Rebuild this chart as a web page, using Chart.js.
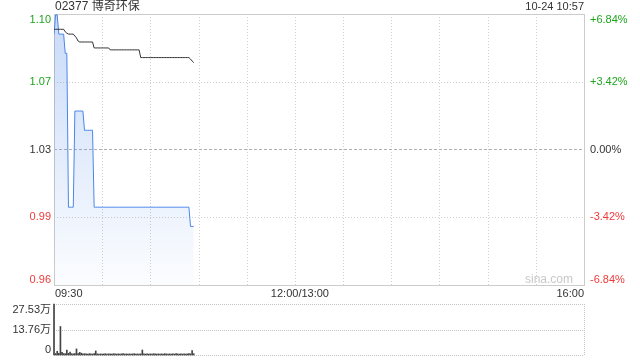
<!DOCTYPE html>
<html>
<head>
<meta charset="utf-8">
<script src="https://cdn.jsdelivr.net/npm/chart.js@4.4.0/dist/chart.umd.min.js"></script>
<style>
html, body { margin: 0; padding: 0; background: #fff; }
#wrap { position: relative; width: 640px; height: 360px; }
#wrap canvas { position: absolute; left: 0; top: 0; }
</style>
</head>
<body>
<div id="wrap">
  <canvas id="price" width="640" height="360"></canvas>
  <canvas id="vol" width="640" height="360"></canvas>
</div>
<script>
const stockName = '02377 博奇环保';
const stamp = '10-24 10:57';
const prevClose = 1.03;
const pctTicks = [6.84, 3.42, 0, -3.42, -6.84];
const priceLabels = ['1.10', '1.07', '1.03', '0.99', '0.96'];
const pctLabels = ['+6.84%', '+3.42%', '0.00%', '-3.42%', '-6.84%'];
const timeTicks = [0, 150, 330];
const timeLabels = ['09:30', '12:00/13:00', '16:00'];
const gridMinutes = [30, 60, 90, 120, 150, 180, 210, 240, 270, 300];
const totalMinutes = 330;

// one value per minute from 09:30
const prices = [
  1.09, 1.10, 1.10, 1.09, 1.09, 1.09, 1.09, 1.08, 1.08, 1.00,
  1.00, 1.00, 1.00, 1.05, 1.05, 1.05, 1.05, 1.05, 1.05, 1.04,
  1.04, 1.04, 1.04, 1.04, 1.04, 1.00, 1.00, 1.00, 1.00, 1.00,
  1.00, 1.00, 1.00, 1.00, 1.00, 1.00, 1.00, 1.00, 1.00, 1.00,
  1.00, 1.00, 1.00, 1.00, 1.00, 1.00, 1.00, 1.00, 1.00, 1.00,
  1.00, 1.00, 1.00, 1.00, 1.00, 1.00, 1.00, 1.00, 1.00, 1.00,
  1.00, 1.00, 1.00, 1.00, 1.00, 1.00, 1.00, 1.00, 1.00, 1.00,
  1.00, 1.00, 1.00, 1.00, 1.00, 1.00, 1.00, 1.00, 1.00, 1.00,
  1.00, 1.00, 1.00, 1.00, 1.00, 0.99, 0.99, 0.99
];
const avgPrices = [
  1.0925, 1.0925, 1.0925, 1.0925, 1.0925, 1.0925, 1.0925, 1.0912, 1.0905, 1.0900,
  1.0900, 1.0900, 1.0900, 1.0890, 1.0880, 1.0864, 1.0859, 1.0859, 1.0859, 1.0859,
  1.0859, 1.0859, 1.0859, 1.0859, 1.0859, 1.0828, 1.0828, 1.0828, 1.0828, 1.0828,
  1.0828, 1.0828, 1.0828, 1.0828, 1.0828, 1.0818, 1.0818, 1.0818, 1.0818, 1.0818,
  1.0818, 1.0818, 1.0818, 1.0818, 1.0818, 1.0818, 1.0818, 1.0818, 1.0818, 1.0818,
  1.0818, 1.0818, 1.0818, 1.0818, 1.0778, 1.0778, 1.0778, 1.0778, 1.0778, 1.0778,
  1.0778, 1.0778, 1.0778, 1.0778, 1.0778, 1.0778, 1.0778, 1.0778, 1.0778, 1.0778,
  1.0778, 1.0778, 1.0778, 1.0778, 1.0778, 1.0778, 1.0778, 1.0778, 1.0778, 1.0778,
  1.0778, 1.0778, 1.0778, 1.0778, 1.0778, 1.0770, 1.0760, 1.0752
];
// volume in 万
const volumes = [
  27.53, 0.8, 2.0, 0.9, 15.4, 1.5, 0.8, 0.7, 2.6, 0.9,
  1.6, 0.7, 0.6, 0.8, 3.3, 0.7, 1.4, 1.0, 0.6, 0.7,
  0.6, 0.5, 0.7, 0.6, 0.5, 0.7, 2.2, 0.6, 0.5, 0.6,
  0.5, 0.6, 0.7, 0.5, 0.6, 0.6, 0.5, 0.7, 0.6, 0.5,
  0.6, 0.5, 0.6, 0.7, 0.5, 0.6, 0.5, 0.6, 0.5, 0.6,
  0.7, 0.5, 0.6, 0.5, 0.6, 2.7, 0.6, 0.5, 0.6, 0.5,
  0.6, 0.5, 0.7, 0.6, 0.5, 0.6, 0.5, 0.6, 0.5, 0.7,
  0.6, 0.5, 0.6, 0.5, 0.6, 0.5, 0.7, 0.6, 0.5, 0.6,
  0.5, 0.6, 0.5, 0.6, 0.7, 0.6, 2.4, 0.7
];
const volMax = 27.53;
const volTicks = [27.53, 13.76, 0];
const volLabels = ['27.53万', '13.76万', '0'];

const GREEN = '#1ea51e';
const RED = '#f03a3a';
const TEXT = '#333';
const FONT = '11px "Liberation Sans", Arial, "Noto Sans CJK SC", sans-serif';
const TITLE_FONT = '12px "Liberation Sans", Arial, "Noto Sans CJK SC", sans-serif';

const snap = v => Math.round(v) + 0.5;

function stroke(ctx, x1, y1, x2, y2, color, dash) {
  ctx.save();
  ctx.strokeStyle = color;
  ctx.lineWidth = 1;
  ctx.setLineDash(dash || []);
  ctx.beginPath();
  ctx.moveTo(x1, y1);
  ctx.lineTo(x2, y2);
  ctx.stroke();
  ctx.restore();
}

function text(ctx, str, x, y, align, baseline, color, font) {
  ctx.save();
  ctx.font = font || FONT;
  ctx.fillStyle = color;
  ctx.textAlign = align;
  ctx.textBaseline = baseline;
  ctx.fillText(str, x, y);
  ctx.restore();
}

function tickColor(p) {
  return p > 0 ? GREEN : (p < 0 ? RED : TEXT);
}

const priceFrame = {
  id: 'priceFrame',
  beforeDatasetsDraw(chart) {
    const { ctx, chartArea: a, scales: { x, y } } = chart;
    gridMinutes.forEach(m => {
      const xx = snap(x.getPixelForValue(m));
      stroke(ctx, xx, a.top, xx, a.bottom, '#cfcfcf', [1, 2]);
    });
    pctTicks.forEach((p, i) => {
      if (i === 0 || i === pctTicks.length - 1) return;
      const yy = snap(y.getPixelForValue(prevClose * (1 + p / 100)));
      if (p === 0) stroke(ctx, a.left, yy, a.right, yy, '#b0b0b0', [3, 2]);
      else stroke(ctx, a.left, yy, a.right, yy, '#cfcfcf', [1, 2]);
    });
    ctx.save();
    ctx.strokeStyle = '#cccccc';
    ctx.lineWidth = 1;
    ctx.strokeRect(snap(a.left), snap(a.top), Math.round(a.right - a.left), Math.round(a.bottom - a.top));
    ctx.restore();
    text(ctx, 'sina.com', a.right - 11, a.bottom - 5, 'right', 'middle', '#c8c8c8', '12px "Liberation Sans", Arial, sans-serif');
  },
  afterDraw(chart) {
    const { ctx, chartArea: a, scales: { x, y } } = chart;
    text(ctx, stockName, a.left + 1, 7, 'left', 'middle', TEXT, TITLE_FONT);
    text(ctx, stamp, a.right, 7, 'right', 'middle', TEXT);
    pctTicks.forEach((p, i) => {
      const yy = y.getPixelForValue(prevClose * (1 + p / 100));
      let base = 'middle';
      let ty = yy;
      if (i === 0) { base = 'top'; ty = a.top; }
      if (i === pctTicks.length - 1) { base = 'bottom'; ty = a.bottom; }
      text(ctx, priceLabels[i], a.left - 3, ty, 'right', base, tickColor(p));
      text(ctx, pctLabels[i], a.right + 6, ty, 'left', base, tickColor(p));
    });
    timeTicks.forEach((m, i) => {
      const xx = x.getPixelForValue(m);
      let align = 'center';
      let tx = xx + 5;
      if (i === 0) { align = 'left'; tx = xx + 1; }
      if (i === timeTicks.length - 1) { align = 'right'; tx = xx; }
      text(ctx, timeLabels[i], tx, a.bottom + 9, align, 'middle', TEXT);
    });
  }
};

const volFrame = {
  id: 'volFrame',
  beforeDatasetsDraw(chart) {
    const { ctx, chartArea: a, scales: { y } } = chart;
    const dot = '#c4c4c4';
    volTicks.forEach(v => {
      const yy = snap(y.getPixelForValue(v));
      stroke(ctx, a.left, yy, a.right, yy, dot, [1, 1]);
    });
    stroke(ctx, snap(a.right), a.top, snap(a.right), a.bottom, dot, [1, 1]);
    stroke(ctx, snap(a.left), a.top, snap(a.left), a.bottom, dot, [1, 1]);
  },
  afterDraw(chart) {
    const { ctx, chartArea: a, scales: { y } } = chart;
    volTicks.forEach((v, i) => {
      let base = 'middle';
      let ty = y.getPixelForValue(v);
      if (i === 0) { base = 'top'; ty = a.top; }
      if (i === volTicks.length - 1) { base = 'bottom'; ty = a.bottom; }
      text(ctx, volLabels[i], a.left - 3, ty, 'right', base, TEXT);
    });
  }
};

new Chart(document.getElementById('price'), {
  type: 'line',
  data: {
    datasets: [
      {
        label: '均价',
        data: avgPrices.map((v, i) => ({ x: i, y: v })),
        borderColor: '#333',
        borderWidth: 1,
        pointRadius: 0,
        fill: false,
        order: 0
      },
      {
        label: '价格',
        data: prices.map((v, i) => ({ x: i, y: v })),
        borderColor: '#4a86e8',
        borderWidth: 1,
        pointRadius: 0,
        fill: 'start',
        backgroundColor: c => {
          const a = c.chart.chartArea;
          if (!a) return 'rgba(74,134,232,0.15)';
          const g = c.chart.ctx.createLinearGradient(0, a.top, 0, a.bottom);
          g.addColorStop(0, 'rgba(74,134,232,0.30)');
          g.addColorStop(1, 'rgba(74,134,232,0.02)');
          return g;
        },
        order: 1
      }
    ]
  },
  options: {
    responsive: false,
    animation: false,
    devicePixelRatio: 1,
    layout: { padding: { left: 54, right: 56, top: 14, bottom: 75 } },
    plugins: { legend: { display: false }, tooltip: { enabled: false } },
    elements: { line: { tension: 0 } },
    scales: {
      x: { type: 'linear', min: 0, max: totalMinutes, display: false },
      y: { min: prevClose * (1 - pctTicks[0] / 100), max: prevClose * (1 + pctTicks[0] / 100), display: false }
    }
  },
  plugins: [priceFrame]
});

new Chart(document.getElementById('vol'), {
  type: 'bar',
  data: {
    datasets: [{
      label: '成交量',
      data: volumes.map((v, i) => ({ x: i, y: v })),
      backgroundColor: '#444',
      barThickness: 1,
      clip: false
    }]
  },
  options: {
    responsive: false,
    animation: false,
    devicePixelRatio: 1,
    layout: { padding: { left: 54, right: 56, top: 304, bottom: 5 } },
    plugins: { legend: { display: false }, tooltip: { enabled: false } },
    scales: {
      x: { type: 'linear', min: 0, max: totalMinutes, offset: false, display: false },
      y: { min: 0, max: volMax, display: false }
    }
  },
  plugins: [volFrame]
});
</script>
</body>
</html>
